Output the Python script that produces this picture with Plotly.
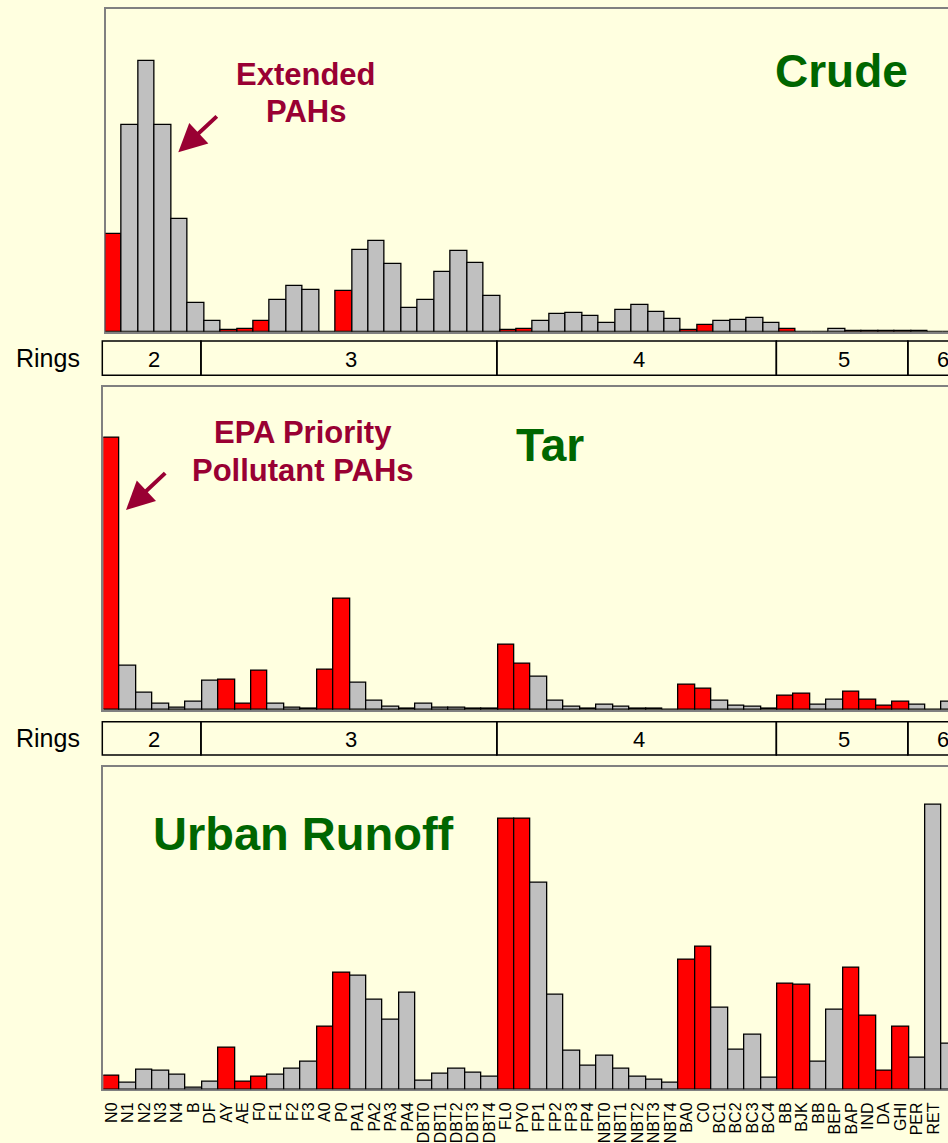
import plotly.graph_objects as go

# ---- data -------------------------------------------------------------
compounds = ["N0", "N1", "N2", "N3", "N4", "B", "DF", "AY", "AE", "F0", "F1", "F2", "F3",
             "A0", "P0", "PA1", "PA2", "PA3", "PA4", "DBT0", "DBT1", "DBT2", "DBT3", "DBT4",
             "FL0", "PY0", "FP1", "FP2", "FP3", "FP4", "NBT0", "NBT1", "NBT2", "NBT3", "NBT4",
             "BA0", "C0", "BC1", "BC2", "BC3", "BC4", "BB", "BJK", "BB", "BEP", "BAP", "IND",
             "DA", "GHI", "PER", "RET", "COR"]

# EPA priority pollutant PAHs (drawn red), by position in the compound list
epa_priority = [0, 7, 8, 9, 13, 14, 24, 25, 35, 36, 41, 42, 45, 46, 47, 48]

# relative abundance (% of panel scale)
crude = [30.2, 64.1, 84.0, 64.1, 34.9, 9.0, 3.2, 0.5, 0.8, 3.4, 9.8, 14.3, 12.9,
         0.0, 12.6, 25.3, 28.2, 20.9, 7.4, 9.8, 18.6, 25.0, 21.4, 11.0,
         0.4, 0.9, 3.2, 5.4, 5.8, 5.0, 2.6, 6.6, 8.2, 6.1, 3.9,
         0.4, 2.2, 3.2, 3.6, 4.2, 2.8, 0.7, 0.0, 0.0, 0.8, 0.3, 0.2,
         0.2, 0.3, 0.3, 0.0, 0.0]
tar = [84.2, 13.6, 5.4, 1.9, 0.6, 2.6, 9.0, 9.4, 1.9, 12.2, 1.9, 0.8, 0.4,
       12.5, 34.4, 8.4, 2.9, 1.0, 0.4, 2.1, 0.7, 0.6, 0.4, 0.3,
       20.3, 14.4, 10.2, 2.8, 1.0, 0.4, 1.5, 0.9, 0.4, 0.3, 0.2,
       7.8, 6.7, 2.8, 1.2, 0.9, 0.4, 4.4, 4.9, 1.7, 3.3, 5.7, 3.3,
       1.2, 2.6, 1.5, 0.0, 2.5]
urban = [4.2, 2.1, 6.1, 5.7, 4.6, 0.6, 2.4, 13.0, 2.3, 3.8, 4.5, 6.4, 8.5,
         19.3, 36.2, 35.2, 27.7, 21.7, 30.1, 2.7, 4.9, 6.4, 5.3, 4.0,
         84.0, 84.0, 64.0, 29.2, 12.0, 7.3, 10.4, 6.4, 4.0, 3.1, 2.1,
         40.1, 44.2, 25.2, 12.4, 16.8, 3.6, 32.8, 32.4, 8.5, 24.8, 37.7, 22.9,
         5.7, 19.3, 9.7, 88.1, 14.0]

# aromatic ring count groups: (rings, first compound, last compound)
ring_groups = [("2", 0, 5), ("3", 6, 23), ("4", 24, 40), ("5", 41, 48), ("6", 49, 52)]

# ---- layout constants (pixels) ---------------------------------------
W, H = 948, 1143
BAR_PX = 16.44
FONT = "Liberation Sans, Arial, sans-serif"
BG = "#FFFFE0"
RED = "#FF0000"
GRAY = "#C0C0C0"
GREEN = "#006600"
CRIMSON = "#990033"
FRAME = "#808080"

panels = [
    dict(title="Crude", values=crude, top=9.0, base=331.7, left=105.5),
    dict(title="Tar", values=tar, top=386.7, base=710.0, left=103.3),
    dict(title="Urban Runoff", values=urban, top=766.7, base=1089.3, left=103.3),
]
ring_rows = [(341.0, 375.3), (721.7, 755.0)]


def py(px):
    return 1 - px / H


def px_x(px):
    return px / W


colors = [RED if i in epa_priority else GRAY for i in range(len(compounds))]
xs = list(range(len(compounds)))

fig = go.Figure()
layout = dict(width=W, height=H, autosize=False,
              margin=dict(l=0, r=0, t=0, b=0, pad=0),
              paper_bgcolor=BG, plot_bgcolor=BG, showlegend=False,
              bargap=0, font=dict(family=FONT, color="black"))

for k, p in enumerate(panels, start=1):
    sfx = "" if k == 1 else str(k)
    fig.add_trace(go.Bar(
        x=xs, y=p["values"], width=1.0,
        marker=dict(color=colors, line=dict(color="black", width=1.3)),
        xaxis="x" + sfx, yaxis="y" + sfx, cliponaxis=True, hoverinfo="skip"))
    x_hi = -0.5 + (W - p["left"]) / BAR_PX
    last = k == len(panels)
    layout["xaxis" + sfx] = dict(
        domain=[px_x(p["left"]), 1.0], range=[-0.5, x_hi], anchor="y" + sfx,
        showline=True, linecolor=FRAME, linewidth=1.5, mirror=True,
        showgrid=False, zeroline=False, layer="below traces",
        ticks="", showticklabels=last,
        tickmode="array", tickvals=xs[:51], ticktext=compounds[:51],
        tickangle=-90, tickfont=dict(family=FONT, size=16, color="black"),
        ticklabelstandoff=5)
    layout["yaxis" + sfx] = dict(
        domain=[py(p["base"]), py(p["top"])], range=[0, 100], anchor="x" + sfx,
        showline=True, linecolor=FRAME, linewidth=1.5, mirror=False,
        showgrid=False, zeroline=False, showticklabels=False, ticks="",
        layer="below traces")

fig.update_layout(**layout)

# ring-count strips under the crude and tar panels, aligned with the bar scale
left_ref = panels[1]["left"]


def edge_px(v):
    return left_ref + (v + 0.5) * BAR_PX


shapes = []
annotations = []
for (y0, y1) in ring_rows:
    for label, first, lastc in ring_groups:
        xa = edge_px(first - 0.5)
        xb = edge_px(lastc + 0.5)
        shapes.append(dict(type="rect", xref="paper", yref="paper",
                           x0=px_x(xa - 1), x1=px_x(xb - 1), y0=py(y1), y1=py(y0),
                           line=dict(color="black", width=1.5), fillcolor="rgba(0,0,0,0)"))
        annotations.append(dict(text=label, xref="paper", yref="paper",
                                x=px_x((xa + xb) / 2 + 1), y=py((y0 + y1) / 2 + 1),
                                xanchor="center", yanchor="middle", showarrow=False,
                                font=dict(family=FONT, size=22, color="black")))
    annotations.append(dict(text="Rings", xref="paper", yref="paper",
                            x=px_x(48.3), y=py((y0 + y1) / 2), xanchor="center",
                            yanchor="middle", showarrow=False,
                            font=dict(family=FONT, size=25, color="black")))

# panel titles
titles = [("Crude", 841.0, 71.0, 46), ("Tar", 550.0, 445.0, 46), ("Urban Runoff", 303.0, 833.0, 47)]
for text, cx, cy, size in titles:
    annotations.append(dict(text="<b>%s</b>" % text, xref="paper", yref="paper",
                            x=px_x(cx), y=py(cy), xanchor="center", yanchor="middle",
                            showarrow=False, font=dict(family=FONT, size=size, color=GREEN)))

# call-outs
callouts = [("Extended", 305.5, 74.0), ("PAHs", 305.5, 111.3),
            ("EPA Priority", 303.0, 432.0), ("Pollutant PAHs", 302.8, 470.0)]
for text, cx, cy in callouts:
    annotations.append(dict(text="<b>%s</b>" % text, xref="paper", yref="paper",
                            x=px_x(cx), y=py(cy), xanchor="center", yanchor="middle",
                            showarrow=False, font=dict(family=FONT, size=31, color=CRIMSON)))

arrows = [((178.3, 152.3), (218.3, 115.0)), ((126.0, 510.0), (166.7, 471.7))]
for (tx, ty), (sx, sy) in arrows:
    annotations.append(dict(text="", xref="paper", yref="paper", x=px_x(tx), y=py(ty),
                            ax=sx - tx, ay=sy - ty, showarrow=True, arrowhead=2,
                            arrowsize=1.4, arrowwidth=4, arrowcolor=CRIMSON))

fig.update_layout(shapes=shapes, annotations=annotations)
fig.write_html("out.html")
